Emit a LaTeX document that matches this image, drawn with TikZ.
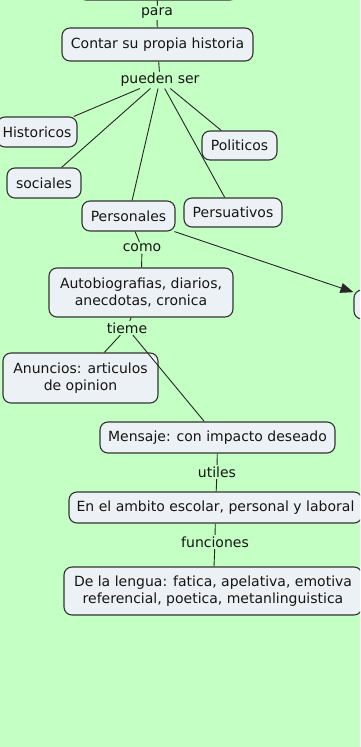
\documentclass[tikz,border=0pt]{standalone}
\usepackage{fontspec}
\setmainfont{DejaVu Sans}
\usetikzlibrary{arrows.meta}
\definecolor{bg}{HTML}{C4FFC4}
\definecolor{nodefill}{HTML}{EBF1F5}
\definecolor{ink}{HTML}{151515}
\definecolor{edge}{HTML}{333333}
\tikzset{
  concept/.style={draw=edge, line width=1.1pt, fill=nodefill, rounded corners=8pt,
    text=ink, align=center, inner sep=0pt, font=\fontsize{14}{17}\selectfont},
  linklabel/.style={text=ink, inner sep=1.5pt, font=\fontsize{14}{16}\selectfont},
  conn/.style={draw=black!85, line width=0.9pt},
}
\begin{document}
\begin{tikzpicture}[x=1pt,y=-1pt]
\clip (0,0) rectangle (360,747);
\fill[bg] (0,0) rectangle (360,747);
% concepts
\node[concept, minimum width=160pt, minimum height=30pt] (top) at (158,-15) {};
\node[concept, minimum width=191pt, minimum height=33pt] (contar) at (157.5,44.5) {Contar su propia historia};
\node[concept, minimum width=80pt, minimum height=30pt] (hist) at (37,132) {Historicos};
\node[concept, minimum width=74pt, minimum height=30pt] (soc) at (44,183) {sociales};
\node[concept, minimum width=75pt, minimum height=29pt] (pol) at (239.5,145.5) {Politicos};
\node[concept, minimum width=93pt, minimum height=30pt] (pers) at (128.5,216) {Personales};
\node[concept, minimum width=98pt, minimum height=29pt] (persu) at (233,212.5) {Persuativos};
\node[concept, minimum width=72pt, minimum height=29pt] (right) at (390,304.5) {};
\node[concept, minimum width=184pt, minimum height=49pt] (auto) at (141,292.5) {Autobiografias, diarios,\\ anecdotas, cronica};
\node[concept, minimum width=155pt, minimum height=50pt] (anun) at (80.5,378) {Anuncios: articulos\\ de opinion};
\node[concept, minimum width=235pt, minimum height=31pt] (mens) at (217.5,437.5) {Mensaje: con impacto deseado};
\node[concept, minimum width=293pt, minimum height=31pt] (ambito) at (215.5,507.5) {En el ambito escolar, personal y laboral};
\node[concept, minimum width=298pt, minimum height=48pt] (lengua) at (213,591) {De la lengua: fatica, apelativa, emotiva\\ referencial, poetica, metanlinguistica};
% link labels
\node[linklabel] (para) at (157,13) {para};
\node[linklabel] (pueden) at (160,80) {pueden ser};
\node[linklabel] (como) at (142,248) {como};
\node[linklabel] (tieme) at (127,328) {tieme};
\node[linklabel] (utiles) at (217,472) {utiles};
\node[linklabel] (func) at (215,542) {funciones};
% connectors
\draw[conn] (top) -- (para);
\draw[conn] (para) -- (contar);
\draw[conn] (contar) -- (pueden);
\draw[conn] (pueden) -- (hist);
\draw[conn] (pueden) -- (soc);
\draw[conn] (pueden) -- (pers);
\draw[conn] (pueden) -- (persu);
\draw[conn] (pueden) -- (pol);
\draw[conn] (pers) -- (como);
\draw[conn] (como) -- (auto);
\draw[conn, -{Triangle[length=13pt,width=10pt]}] (pers) -- (right);
\draw[conn] (auto) -- (tieme);
\draw[conn] (tieme) -- (anun);
\draw[conn] (tieme) -- (mens);
\draw[conn] (mens) -- (utiles);
\draw[conn] (utiles) -- (ambito);
\draw[conn] (ambito) -- (func);
\draw[conn] (func) -- (lengua);
\end{tikzpicture}
\end{document}
